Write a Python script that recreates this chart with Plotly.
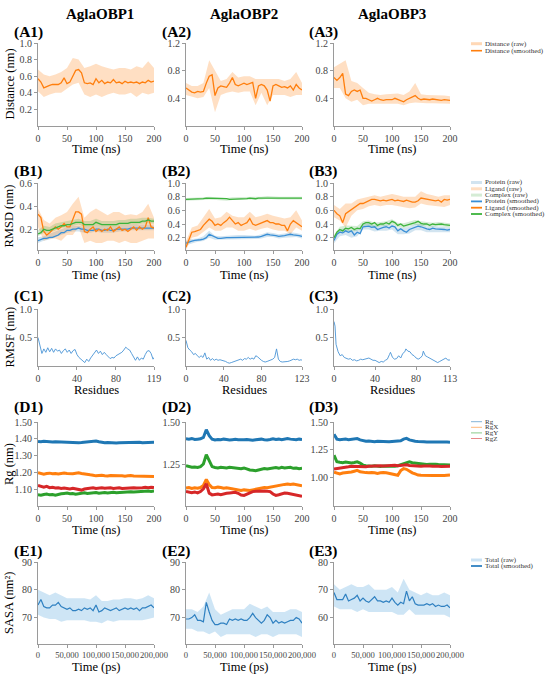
import plotly.graph_objects as go
from plotly.subplots import make_subplots

FONT = "Liberation Serif"
W, H = 550, 679

# ---------------- time / residue axes ----------------
T5 = list(range(0, 201, 5))
T10 = list(range(0, 201, 10))
T5_PS = [t * 1000 for t in T5]
T10_PS = [t * 1000 for t in T10]

# ---------------- (A) ligand distance (nm) ----------------
A1_SM = [0.57,0.53,0.46,0.48,0.49,0.50,0.50,0.50,0.52,0.58,
         0.51,0.53,0.60,0.67,0.68,0.64,0.52,0.51,0.52,0.50,
         0.57,0.52,0.55,0.51,0.53,0.52,0.56,0.52,0.53,0.51,
         0.54,0.52,0.53,0.52,0.53,0.51,0.53,0.52,0.55,0.53,0.54]
A1_LO = [0.42,0.35,0.38,0.40,0.40,0.45,0.50,0.52,0.38,0.35,0.38,0.35,0.38,0.40,0.38,0.38,0.40,0.35,0.40,0.38,0.40]
A1_HI = [0.68,0.62,0.60,0.62,0.65,0.70,0.82,0.80,0.70,0.72,0.75,0.72,0.70,0.68,0.70,0.70,0.68,0.72,0.70,0.78,0.70]

A2_SM = [0.55,0.52,0.49,0.48,0.50,0.49,0.50,0.62,0.72,0.74,
         0.44,0.55,0.58,0.57,0.56,0.62,0.70,0.60,0.58,0.60,
         0.62,0.60,0.61,0.63,0.40,0.58,0.60,0.58,0.52,0.36,
         0.58,0.60,0.58,0.56,0.57,0.55,0.58,0.52,0.60,0.55,0.52]
A2_LO = [0.45,0.42,0.40,0.42,0.55,0.20,0.45,0.48,0.50,0.48,0.50,0.50,0.30,0.48,0.30,0.45,0.45,0.45,0.42,0.45,0.45]
A2_HI = [0.62,0.58,0.58,0.62,0.95,0.80,0.65,0.68,0.78,0.70,0.72,0.72,0.68,0.68,0.68,0.68,0.68,0.65,0.68,0.78,0.62]

A3_SM = [0.70,0.66,0.70,0.76,0.46,0.44,0.50,0.52,0.50,0.52,
         0.40,0.40,0.38,0.36,0.38,0.40,0.38,0.37,0.38,0.38,
         0.38,0.40,0.38,0.36,0.35,0.38,0.40,0.42,0.44,0.40,
         0.38,0.39,0.38,0.38,0.39,0.38,0.38,0.37,0.38,0.37,0.37]
A3_LO = [0.55,0.55,0.40,0.35,0.38,0.30,0.32,0.32,0.32,0.33,0.33,0.32,0.30,0.33,0.34,0.33,0.33,0.33,0.33,0.33,0.32]
A3_HI = [0.85,0.90,0.95,0.65,0.62,0.55,0.48,0.46,0.45,0.46,0.46,0.47,0.45,0.50,0.62,0.46,0.45,0.45,0.44,0.44,0.43]

# ---------------- (B) RMSD (nm) ----------------
B1_PRO = [0.10,0.11,0.12,0.12,0.13,0.13,0.14,0.15,0.17,0.17,
          0.19,0.19,0.20,0.20,0.21,0.20,0.20,0.19,0.19,0.19,
          0.20,0.20,0.19,0.19,0.20,0.19,0.19,0.20,0.20,0.20,
          0.20,0.20,0.21,0.21,0.21,0.21,0.21,0.21,0.21,0.21,0.21]
B1_LIG = [0.33,0.30,0.18,0.15,0.17,0.20,0.22,0.20,0.22,0.25,
          0.22,0.22,0.28,0.35,0.35,0.33,0.18,0.17,0.20,0.22,
          0.18,0.20,0.18,0.20,0.19,0.22,0.18,0.20,0.22,0.19,
          0.20,0.18,0.20,0.22,0.19,0.22,0.20,0.22,0.30,0.22,0.21]
B1_COM = [0.16,0.17,0.20,0.19,0.19,0.20,0.21,0.22,0.23,0.23,
          0.24,0.24,0.25,0.26,0.26,0.26,0.24,0.24,0.24,0.24,
          0.26,0.25,0.24,0.24,0.24,0.24,0.24,0.24,0.25,0.25,
          0.25,0.25,0.26,0.26,0.26,0.26,0.27,0.27,0.28,0.27,0.27]
B1_PRO_LO = [0.08,0.10,0.11,0.13,0.15,0.17,0.18,0.18,0.17,0.17,0.18,0.17,0.17,0.17,0.18,0.18,0.19,0.19,0.19,0.19,0.19]
B1_PRO_HI = [0.13,0.14,0.16,0.18,0.20,0.22,0.23,0.23,0.22,0.22,0.23,0.22,0.22,0.22,0.23,0.23,0.24,0.24,0.24,0.24,0.23]
B1_LIG_LO = [0.22,0.10,0.12,0.12,0.10,0.15,0.15,0.22,0.08,0.10,0.08,0.08,0.10,0.10,0.08,0.10,0.08,0.08,0.10,0.12,0.12]
B1_LIG_HI = [0.38,0.28,0.25,0.30,0.32,0.35,0.42,0.48,0.30,0.35,0.38,0.35,0.32,0.35,0.35,0.32,0.33,0.32,0.35,0.42,0.30]
B1_COM_LO = [0.14,0.17,0.17,0.19,0.21,0.22,0.23,0.24,0.22,0.22,0.23,0.22,0.22,0.22,0.23,0.23,0.24,0.24,0.25,0.25,0.25]
B1_COM_HI = [0.19,0.23,0.22,0.25,0.26,0.27,0.28,0.29,0.27,0.27,0.29,0.27,0.27,0.27,0.28,0.28,0.29,0.29,0.30,0.30,0.29]

B2_PRO = [0.12,0.14,0.15,0.16,0.16,0.17,0.18,0.20,0.25,0.23,
          0.20,0.19,0.19,0.20,0.20,0.20,0.20,0.21,0.21,0.21,
          0.21,0.21,0.20,0.20,0.20,0.21,0.22,0.23,0.25,0.24,
          0.24,0.23,0.22,0.22,0.23,0.24,0.25,0.24,0.24,0.23,0.22]
B2_LIG = [0.06,0.18,0.28,0.29,0.30,0.32,0.38,0.42,0.47,0.44,
          0.38,0.40,0.38,0.42,0.45,0.50,0.45,0.40,0.42,0.38,
          0.40,0.42,0.48,0.40,0.38,0.40,0.42,0.43,0.45,0.42,
          0.42,0.40,0.40,0.38,0.38,0.30,0.40,0.45,0.42,0.38,0.36]
B2_COM = [0.76,0.76,0.76,0.77,0.77,0.77,0.77,0.78,0.78,0.77,
          0.77,0.77,0.77,0.77,0.77,0.76,0.76,0.77,0.77,0.77,
          0.77,0.77,0.78,0.77,0.77,0.78,0.78,0.79,0.79,0.79,
          0.78,0.78,0.78,0.78,0.78,0.78,0.78,0.78,0.78,0.78,0.78]
B2_PRO_LO = [0.09,0.12,0.14,0.15,0.20,0.17,0.17,0.18,0.18,0.18,0.18,0.18,0.18,0.19,0.21,0.21,0.19,0.20,0.21,0.21,0.19]
B2_PRO_HI = [0.15,0.18,0.19,0.22,0.30,0.23,0.22,0.23,0.23,0.24,0.24,0.23,0.23,0.25,0.28,0.27,0.25,0.26,0.28,0.27,0.25]
B2_LIG_LO = [0.02,0.20,0.22,0.28,0.35,0.30,0.30,0.35,0.35,0.30,0.30,0.33,0.30,0.33,0.35,0.32,0.30,0.30,0.25,0.35,0.30]
B2_LIG_HI = [0.15,0.35,0.38,0.50,0.62,0.48,0.50,0.58,0.52,0.50,0.50,0.58,0.50,0.52,0.55,0.52,0.50,0.48,0.50,0.60,0.45]
B2_COM_LO = [0.74,0.74,0.75,0.75,0.76,0.75,0.75,0.74,0.75,0.75,0.75,0.76,0.75,0.76,0.77,0.76,0.76,0.76,0.76,0.76,0.76]
B2_COM_HI = [0.78,0.78,0.79,0.79,0.80,0.79,0.79,0.78,0.79,0.79,0.79,0.80,0.79,0.80,0.81,0.80,0.80,0.80,0.80,0.80,0.80]

B3_PRO = [0.16,0.25,0.28,0.27,0.30,0.28,0.30,0.24,0.28,0.26,
          0.36,0.37,0.37,0.35,0.36,0.32,0.34,0.35,0.36,0.34,
          0.37,0.36,0.30,0.33,0.30,0.28,0.32,0.34,0.36,0.37,
          0.36,0.34,0.33,0.32,0.34,0.33,0.33,0.32,0.32,0.31,0.32]
B3_LIG = [0.60,0.55,0.52,0.42,0.55,0.58,0.62,0.65,0.68,0.70,
          0.70,0.72,0.74,0.76,0.76,0.75,0.74,0.75,0.74,0.75,
          0.76,0.74,0.75,0.74,0.73,0.75,0.73,0.72,0.72,0.74,
          0.78,0.77,0.76,0.75,0.75,0.74,0.75,0.72,0.76,0.75,0.76]
B3_COM = [0.20,0.28,0.32,0.30,0.34,0.33,0.35,0.32,0.34,0.33,
          0.40,0.42,0.42,0.40,0.42,0.38,0.40,0.40,0.42,0.40,
          0.44,0.42,0.38,0.40,0.37,0.38,0.40,0.40,0.42,0.44,
          0.41,0.40,0.40,0.38,0.40,0.39,0.40,0.40,0.39,0.39,0.38]
B3_PRO_LO = [0.12,0.22,0.24,0.20,0.22,0.32,0.32,0.29,0.30,0.30,0.32,0.25,0.25,0.26,0.31,0.31,0.28,0.28,0.28,0.27,0.28]
B3_PRO_HI = [0.20,0.32,0.34,0.30,0.32,0.40,0.41,0.38,0.38,0.39,0.40,0.34,0.34,0.36,0.40,0.40,0.36,0.37,0.36,0.35,0.35]
B3_LIG_LO = [0.50,0.45,0.35,0.52,0.60,0.62,0.66,0.68,0.66,0.68,0.68,0.66,0.65,0.63,0.64,0.70,0.68,0.67,0.65,0.65,0.68]
B3_LIG_HI = [0.68,0.62,0.70,0.70,0.76,0.78,0.80,0.82,0.80,0.82,0.84,0.82,0.80,0.80,0.80,0.88,0.84,0.82,0.80,0.82,0.82]
B3_COM_LO = [0.18,0.28,0.30,0.29,0.30,0.37,0.38,0.35,0.37,0.37,0.40,0.35,0.34,0.36,0.39,0.37,0.36,0.36,0.37,0.36,0.35]
B3_COM_HI = [0.24,0.36,0.38,0.37,0.37,0.44,0.45,0.42,0.43,0.44,0.47,0.42,0.41,0.43,0.46,0.44,0.43,0.42,0.43,0.42,0.41]

# ---------------- (C) RMSF (nm) ----------------
RES1 = list(range(0, 119, 2)) + [119]
C1 = [0.50,0.33,0.22,0.30,0.24,0.32,0.25,0.31,0.24,0.30,
      0.26,0.28,0.22,0.27,0.30,0.24,0.28,0.22,0.27,0.29,
      0.20,0.15,0.12,0.08,0.06,0.12,0.08,0.14,0.18,0.22,
      0.28,0.22,0.26,0.20,0.24,0.20,0.17,0.13,0.15,0.14,
      0.18,0.20,0.22,0.24,0.28,0.33,0.30,0.28,0.22,0.15,
      0.10,0.16,0.10,0.14,0.12,0.20,0.26,0.27,0.22,0.12,0.15]
RES2 = list(range(0, 123, 2)) + [123]
C2 = [0.45,0.32,0.28,0.25,0.20,0.22,0.18,0.15,0.18,0.15,
      0.23,0.12,0.15,0.10,0.13,0.10,0.12,0.10,0.11,0.10,
      0.10,0.08,0.06,0.05,0.06,0.07,0.08,0.09,0.10,0.12,
      0.10,0.13,0.12,0.15,0.12,0.14,0.12,0.18,0.16,0.12,
      0.10,0.08,0.07,0.08,0.09,0.10,0.12,0.15,0.30,0.12,
      0.08,0.07,0.07,0.08,0.08,0.09,0.10,0.12,0.11,0.12,
      0.10,0.11,0.10]
RES3 = [0,1,2,3,4,6,8,10,12,14,16,18,20,22,24,26,28,30,32,34,36,38,40,42,44,46,48,50,52,54,
        55,57,59,61,63,65,67,69,70,72,74,76,78,80,82,84,86,87,89,91,93,95,97,99,101,103,105,
        107,109,111,112,113]
C3 = [0.78,0.70,0.38,0.30,0.25,0.18,0.20,0.15,0.14,0.12,0.13,0.10,0.11,0.09,0.10,0.12,0.11,
      0.12,0.13,0.14,0.12,0.10,0.10,0.08,0.06,0.08,0.07,0.10,0.12,0.20,0.24,0.15,0.12,0.13,
      0.18,0.14,0.22,0.25,0.30,0.26,0.25,0.20,0.18,0.14,0.12,0.14,0.18,0.26,0.18,0.16,0.14,
      0.12,0.10,0.08,0.06,0.08,0.10,0.12,0.14,0.10,0.11,0.10]

# ---------------- (D) radius of gyration (nm) ----------------
D1_RG = [1.385,1.383,1.386,1.384,1.385,1.382,1.384,1.383,1.381,1.382,
         1.380,1.381,1.379,1.380,1.378,1.379,1.380,1.381,1.382,1.384,
         1.388,1.383,1.380,1.378,1.379,1.377,1.378,1.376,1.377,1.378,
         1.379,1.378,1.377,1.378,1.379,1.381,1.378,1.379,1.380,1.381,1.380]
D1_RGX = [1.200,1.195,1.192,1.196,1.198,1.194,1.196,1.193,1.197,1.199,
          1.196,1.194,1.195,1.198,1.200,1.196,1.192,1.190,1.188,1.186,
          1.182,1.184,1.186,1.183,1.181,1.184,1.182,1.180,1.182,1.183,
          1.180,1.182,1.184,1.181,1.180,1.182,1.179,1.178,1.180,1.176,1.178]
D1_RGY = [1.070,1.068,1.072,1.075,1.070,1.072,1.068,1.074,1.076,1.078,
          1.080,1.076,1.078,1.074,1.077,1.080,1.082,1.078,1.080,1.082,
          1.084,1.080,1.082,1.084,1.081,1.083,1.085,1.082,1.084,1.086,
          1.084,1.086,1.088,1.086,1.088,1.090,1.088,1.090,1.092,1.090,1.092]
D1_RGZ = [1.125,1.118,1.115,1.120,1.112,1.114,1.110,1.112,1.108,1.110,
          1.106,1.105,1.108,1.104,1.100,1.098,1.104,1.108,1.110,1.112,
          1.108,1.110,1.112,1.109,1.110,1.112,1.108,1.110,1.111,1.108,
          1.110,1.109,1.111,1.112,1.110,1.113,1.112,1.114,1.112,1.115,1.113]

D2_RG = [1.402,1.400,1.404,1.398,1.400,1.402,1.410,1.455,1.420,1.400,
         1.395,1.398,1.396,1.400,1.398,1.395,1.397,1.399,1.396,1.394,
         1.396,1.398,1.395,1.393,1.396,1.398,1.400,1.397,1.395,1.398,
         1.402,1.398,1.400,1.396,1.402,1.404,1.400,1.398,1.396,1.400,1.398]
D2_RGX = [1.115,1.118,1.112,1.116,1.114,1.118,1.130,1.165,1.135,1.118,
          1.116,1.120,1.118,1.114,1.116,1.112,1.110,1.108,1.104,1.100,
          1.104,1.102,1.100,1.104,1.108,1.112,1.115,1.118,1.116,1.120,
          1.124,1.128,1.130,1.134,1.136,1.138,1.135,1.138,1.134,1.130,1.128]
D2_RGY = [1.245,1.240,1.236,1.238,1.235,1.240,1.255,1.310,1.270,1.240,
          1.235,1.232,1.236,1.234,1.232,1.236,1.235,1.233,1.230,1.228,
          1.232,1.225,1.220,1.218,1.216,1.220,1.224,1.228,1.226,1.230,
          1.232,1.234,1.230,1.236,1.232,1.234,1.236,1.230,1.232,1.228,1.230]
D2_RGZ = [1.095,1.090,1.088,1.092,1.086,1.094,1.110,1.140,1.085,1.075,
          1.078,1.080,1.076,1.082,1.084,1.086,1.088,1.090,1.084,1.074,
          1.072,1.080,1.088,1.094,1.096,1.098,1.100,1.098,1.096,1.094,
          1.080,1.072,1.076,1.082,1.086,1.084,1.080,1.076,1.072,1.070,1.066]

D3_RG = [1.390,1.345,1.340,1.342,1.345,1.340,1.344,1.348,1.350,1.338,
         1.330,1.326,1.328,1.325,1.322,1.326,1.324,1.322,1.320,1.322,
         1.324,1.326,1.322,1.330,1.345,1.352,1.338,1.330,1.326,1.324,
         1.326,1.322,1.320,1.322,1.324,1.320,1.318,1.322,1.320,1.318,1.316]
D3_RGX = [1.045,1.035,1.030,1.038,1.042,1.040,1.048,1.055,1.062,1.050,
          1.044,1.042,1.040,1.044,1.040,1.035,1.040,1.044,1.040,1.035,
          1.030,1.025,1.018,1.060,1.078,1.072,1.055,1.040,1.030,1.020,
          1.018,1.016,1.015,1.018,1.016,1.015,1.018,1.016,1.015,1.018,1.020]
D3_RGY = [1.200,1.140,1.135,1.132,1.138,1.135,1.130,1.134,1.140,1.128,
          1.110,1.105,1.102,1.100,1.104,1.100,1.098,1.102,1.100,1.098,
          1.096,1.100,1.104,1.112,1.125,1.135,1.140,1.132,1.128,1.125,
          1.120,1.118,1.116,1.118,1.115,1.118,1.116,1.114,1.116,1.115,1.112]
D3_RGZ = [1.075,1.078,1.085,1.090,1.092,1.095,1.100,1.098,1.100,1.096,
          1.094,1.096,1.100,1.102,1.098,1.100,1.104,1.102,1.104,1.108,
          1.110,1.108,1.104,1.108,1.110,1.112,1.106,1.104,1.100,1.102,
          1.100,1.102,1.104,1.102,1.100,1.102,1.100,1.098,1.100,1.102,1.100]

# ---------------- (E) SASA (nm^2) ----------------
E1_SM = [74.5,76.5,74.0,73.5,73.5,74.5,74.5,75.5,74.0,73.5,
         73.0,73.5,72.5,72.5,73.0,72.5,73.5,73.0,73.5,72.5,
         74.5,72.0,72.5,73.5,73.0,72.5,73.0,73.5,72.5,73.0,
         73.5,73.0,73.5,73.0,73.5,72.5,73.5,73.5,74.0,74.5,73.5]
E1_LO = [71,70,69.5,69.5,68.5,69,69,69,69,68.5,68.5,68,69,68.5,69,69,69,69,69,69.5,70]
E1_HI = [80,79,78,79,78,77,77,77,77,76.5,78,76,76,76.5,76.5,77,77,76.5,77,78,77]

E2_SM = [69.5,69.5,70.0,71.0,69.0,69.0,68.5,75.5,72.0,69.0,
         67.5,67.5,68.0,68.0,67.5,69.5,69.0,69.5,69.0,69.5,
         69.0,69.0,70.0,71.5,70.0,69.0,68.0,69.0,71.0,70.0,
         68.0,69.0,68.0,68.5,68.0,68.5,69.0,69.0,70.0,69.5,68.0]
E2_LO = [66,66,65,65,64,65,63,64,64,64,64,64,63,64,64,63,64,64,64,64,63]
E2_HI = [73,73,72,74,79,73,71,72,73,73,73,75,74,73,74,72,72,72,73,73,72]

E3_SM = [69.0,66.5,66.5,66.5,68.5,66.0,66.5,67.0,68.0,66.0,
         67.0,66.0,65.5,66.5,67.5,66.0,66.0,65.5,66.0,65.5,
         67.0,65.5,64.5,65.5,65.0,69.5,66.0,67.5,65.0,64.5,
         64.5,64.5,65.0,64.5,65.0,64.0,64.5,64.0,64.0,64.5,63.5]
E3_LO = [64,63,63,63,62,63,62,62,62,62,62,61,61,63,61,61,61,61,61,61,60]
E3_HI = [72,70,71,72,71,71,72,70,70,70,71,69,74,70,69,68,69,68,68,69,68]

# ---------------- styles ----------------
ORANGE, BLUE, GREEN, RED = "#ff7f0e", "#1f77b4", "#2ca02c", "#d62728"
RAW_ORANGE = "rgba(255,127,14,0.25)"
RAW_BLUE = "rgba(31,119,180,0.20)"
RAW_GREEN = "rgba(44,160,44,0.20)"
PRO_SM = "#3a8fd6"
COM_SM = "#3cb33c"
RMSF_BLUE = "#4a94d6"
SASA_BLUE = "#2f80c1"
RAW_SASA = "rgba(80,160,220,0.28)"

fig = make_subplots(rows=5, cols=3)


def band(x, lo, hi, color, r, c, name):
    fig.add_trace(go.Scatter(x=x, y=lo, mode="lines", line=dict(width=0),
                             showlegend=False, hoverinfo="skip"), row=r, col=c)
    fig.add_trace(go.Scatter(x=x, y=hi, mode="lines", line=dict(width=0),
                             fill="tonexty", fillcolor=color, name=name,
                             showlegend=False), row=r, col=c)


def line(x, y, color, width, r, c, name):
    fig.add_trace(go.Scatter(x=x, y=y, mode="lines", name=name,
                             line=dict(color=color, width=width),
                             showlegend=False), row=r, col=c)


# Row A
for c, (lo, hi, sm) in enumerate([(A1_LO, A1_HI, A1_SM), (A2_LO, A2_HI, A2_SM),
                                  (A3_LO, A3_HI, A3_SM)], start=1):
    band(T10, lo, hi, RAW_ORANGE, 1, c, "Distance (raw)")
    line(T5, sm, ORANGE, 1.3, 1, c, "Distance (smoothed)")

# Row B
B_SETS = [
    (B1_PRO_LO, B1_PRO_HI, B1_LIG_LO, B1_LIG_HI, B1_COM_LO, B1_COM_HI, B1_PRO, B1_LIG, B1_COM),
    (B2_PRO_LO, B2_PRO_HI, B2_LIG_LO, B2_LIG_HI, B2_COM_LO, B2_COM_HI, B2_PRO, B2_LIG, B2_COM),
    (B3_PRO_LO, B3_PRO_HI, B3_LIG_LO, B3_LIG_HI, B3_COM_LO, B3_COM_HI, B3_PRO, B3_LIG, B3_COM),
]
for c, s in enumerate(B_SETS, start=1):
    band(T10, s[0], s[1], RAW_BLUE, 2, c, "Protein (raw)")
    band(T10, s[2], s[3], RAW_ORANGE, 2, c, "Ligand (raw)")
    band(T10, s[4], s[5], RAW_GREEN, 2, c, "Complex (raw)")
    line(T5, s[6], PRO_SM, 1.3, 2, c, "Protein (smoothed)")
    line(T5, s[7], ORANGE, 1.3, 2, c, "Ligand (smoothed)")
    line(T5, s[8], COM_SM, 1.3, 2, c, "Complex (smoothed)")

# Row C
for c, (res, v) in enumerate([(RES1, C1), (RES2, C2), (RES3, C3)], start=1):
    line(res, v, RMSF_BLUE, 0.9, 3, c, "RMSF")

# Row D
for c, s in enumerate([(D1_RG, D1_RGX, D1_RGY, D1_RGZ), (D2_RG, D2_RGX, D2_RGY, D2_RGZ),
                       (D3_RG, D3_RGX, D3_RGY, D3_RGZ)], start=1):
    for y, col, nm in zip(s, [BLUE, ORANGE, GREEN, RED], ["Rg", "RgX", "RgY", "RgZ"]):
        line(T5, y, col, 3.0, 4, c, nm)

# Row E
for c, (lo, hi, sm) in enumerate([(E1_LO, E1_HI, E1_SM), (E2_LO, E2_HI, E2_SM),
                                  (E3_LO, E3_HI, E3_SM)], start=1):
    band(T10_PS, lo, hi, RAW_SASA, 5, c, "Total (raw)")
    line(T5_PS, sm, SASA_BLUE, 1.2, 5, c, "Total (smoothed)")

# ---------------- axes ----------------
COLS = [(38, 154), (186, 302), (334, 450)]
ROWS = [(43, 126), (183, 250), (309, 366), (422, 506), (562, 644)]

TICKFONT = dict(family=FONT, size=10, color="#444")
AX = dict(showline=True, linecolor="#9a9a9a", linewidth=1, ticks="outside", ticklen=3,
          tickcolor="#9a9a9a", tickwidth=1, showgrid=False, zeroline=False,
          tickfont=TICKFONT, tickangle=0, automargin=False)

TIME_T = [0, 50, 100, 150, 200]
PS_T = [0, 50000, 100000, 150000, 200000]
PS_L = ["0", "50,000", "100,000", "150,000", "200,000"]

XCFG = {
    1: [([0, 200], TIME_T, [str(v) for v in TIME_T])] * 3,
    2: [([0, 200], TIME_T, [str(v) for v in TIME_T])] * 3,
    3: [([0, 119], [0, 40, 80, 119], ["0", "40", "80", "119"]),
        ([0, 123], [0, 40, 80, 123], ["0", "40", "80", "123"]),
        ([0, 113], [0, 40, 80, 113], ["0", "40", "80", "113"])],
    4: [([0, 200], TIME_T, [str(v) for v in TIME_T])] * 3,
    5: [([0, 200000], PS_T, PS_L)] * 3,
}
YCFG = {
    1: [([0, 1.0], [0.2, 0.4, 0.6, 0.8, 1.0], ["0.2", "0.4", "0.6", "0.8", "1.0"]),
        ([0, 1.2], [0.4, 0.8, 1.2], ["0.4", "0.8", "1.2"]),
        ([0, 1.2], [0.4, 0.8, 1.2], ["0.4", "0.8", "1.2"])],
    2: [([0.02, 0.6], [0.2, 0.4, 0.6], ["0.2", "0.4", "0.6"]),
        ([0.02, 1.0], [0.2, 0.4, 0.6, 0.8, 1.0], ["0.2", "0.4", "0.6", "0.8", "1.0"]),
        ([0.02, 1.0], [0.2, 0.4, 0.6, 0.8, 1.0], ["0.2", "0.4", "0.6", "0.8", "1.0"])],
    3: [([0, 1.0], [0.5, 1.0], ["0.5", "1.0"])] * 3,
    4: [([1.004, 1.5], [1.1, 1.2, 1.3, 1.4, 1.5], ["1.10", "1.20", "1.30", "1.40", "1.50"]),
        ([1.01, 1.5], [1.25, 1.5], ["1.25", "1.50"]),
        ([0.74, 1.5], [1.0, 1.25, 1.5], ["1.00", "1.25", "1.50"])],
    5: [([60.5, 90], [70, 80, 90], ["70", "80", "90"]),
        ([60.5, 90], [70, 80, 90], ["70", "80", "90"]),
        ([50.5, 80], [60, 70, 80], ["60", "70", "80"])],
}

for r in range(1, 6):
    for c in range(1, 4):
        xr, xv, xt = XCFG[r][c - 1]
        yr, yv, yt = YCFG[r][c - 1]
        xf = dict(AX)
        if r == 5:
            xf["tickfont"] = dict(family=FONT, size=8.6, color="#444")
        fig.update_xaxes(domain=[COLS[c - 1][0] / W, COLS[c - 1][1] / W], range=xr,
                         tickmode="array", tickvals=xv, ticktext=xt, row=r, col=c, **xf)
        fig.update_yaxes(domain=[1 - ROWS[r - 1][1] / H, 1 - ROWS[r - 1][0] / H], range=yr,
                         tickmode="array", tickvals=yv, ticktext=yt, row=r, col=c, **AX)

# ---------------- text ----------------
annotations = []
shapes = []


def ann(text, x, y, size, bold=False, xanchor="center", angle=0, color="#000"):
    annotations.append(dict(text=f"<b>{text}</b>" if bold else text, x=x / W, y=1 - y / H,
                            xref="paper", yref="paper", showarrow=False, xanchor=xanchor,
                            yanchor="middle", textangle=angle, borderpad=0,
                            font=dict(family=FONT, size=size, color=color)))


for name, xc in zip(["AglaOBP1", "AglaOBP2", "AglaOBP3"], [100, 244, 392]):
    ann(name, xc, 14, 15, bold=True)

LABEL_Y = [32, 171, 296, 407, 551]
for ri, letter in enumerate("ABCDE"):
    for ci, xl in enumerate([13, 161, 308]):
        ann(f"({letter}{ci + 1})", xl, LABEL_Y[ri], 15.5, bold=True, xanchor="left")

YT = ["Distance (nm)", "RMSD (nm)", "RMSF (nm)", "Rg (nm)", "SASA (nm²)"]
for ri, t in enumerate(YT):
    ann(t, 9, (ROWS[ri][0] + ROWS[ri][1]) / 2, 12.5, angle=-90)

XT_Y = [149, 275, 390, 530, 667]
XT = ["Time (ns)", "Time (ns)", "Residues", "Time (ns)", "Time (ps)"]
for ri in range(5):
    for (a, b) in COLS:
        ann(XT[ri], (a + b) / 2, XT_Y[ri], 12.5)


def legend(items, y0, dy):
    for i, (label, color, width) in enumerate(items):
        y = y0 + i * dy
        shapes.append(dict(type="line", xref="paper", yref="paper", x0=471 / W, x1=482 / W,
                           y0=1 - y / H, y1=1 - y / H, line=dict(color=color, width=width)))
        ann(label, 484, y, 7, xanchor="left", color="#333")


legend([("Distance (raw)", "rgba(255,127,14,0.3)", 3), ("Distance (smoothed)", ORANGE, 1.6)], 43.7, 7)
legend([("Protein (raw)", "rgba(31,119,180,0.2)", 3), ("Ligand (raw)", "rgba(255,127,14,0.25)", 3),
        ("Complex (raw)", "rgba(44,160,44,0.2)", 3), ("Protein (smoothed)", PRO_SM, 1.8),
        ("Ligand (smoothed)", ORANGE, 1.8), ("Complex (smoothed)", COM_SM, 1.8)], 182.5, 6.3)
legend([("Rg", "rgba(31,119,180,0.55)", 1), ("RgX", "rgba(255,127,14,0.55)", 1),
        ("RgY", "rgba(44,160,44,0.55)", 1), ("RgZ", "rgba(214,39,40,0.55)", 1)], 421.7, 5.6)
legend([("Total (raw)", "rgba(80,160,220,0.3)", 3), ("Total (smoothed)", SASA_BLUE, 1.8)], 560, 6)

fig.update_layout(width=W, height=H, margin=dict(l=0, r=0, t=0, b=0),
                  paper_bgcolor="white", plot_bgcolor="white",
                  font=dict(family=FONT), showlegend=False, hovermode=False,
                  annotations=annotations, shapes=shapes)

# remove the page's default body margin so the 550x679 figure fills the window
fig.write_html("out.html", config={"displayModeBar": False},
               post_script="document.body.style.margin='0';document.body.style.overflow='hidden';")
